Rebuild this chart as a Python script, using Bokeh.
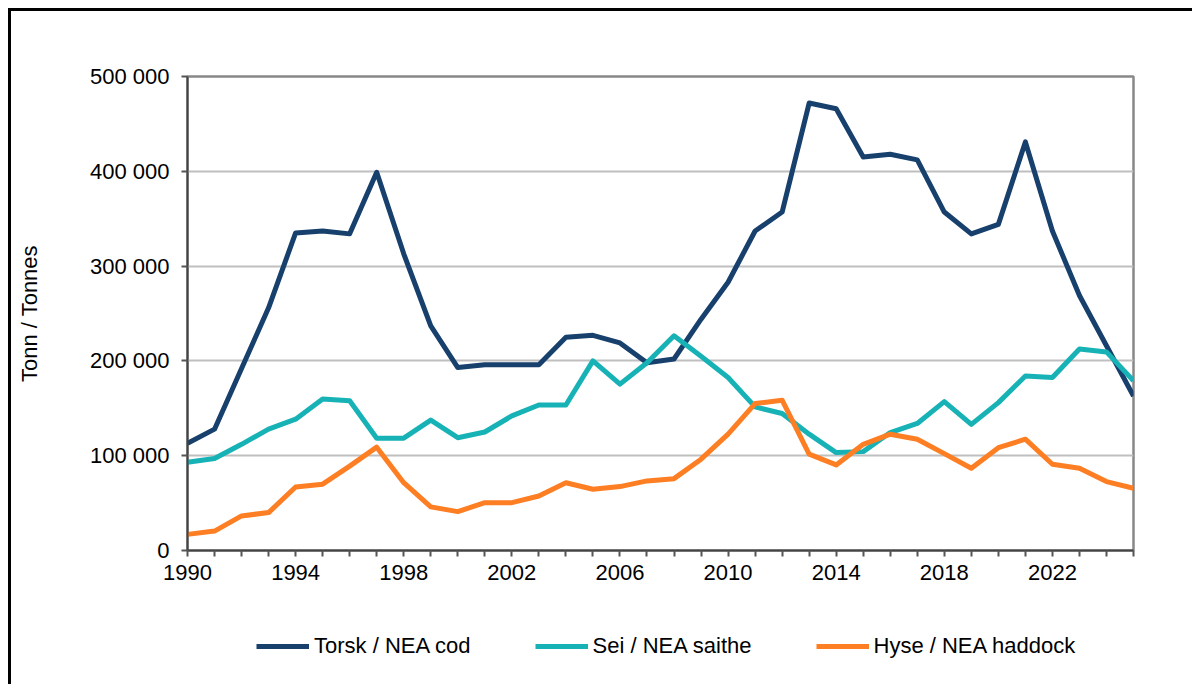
from bokeh.plotting import figure
from bokeh.layouts import column
from bokeh.models import FixedTicker, Range1d, Legend, LegendItem
from bokeh.embed import file_html
from bokeh.resources import INLINE

years = list(range(1990, 2026))
cod = [113000, 128000, 192000, 256000, 335000, 337000, 334000, 399000, 313000, 237000,
       193000, 196000, 196000, 196000, 225000, 227000, 219000, 198000, 202000, 244000,
       283000, 337000, 357000, 472000, 466000, 415000, 418000, 412000, 357000, 334000,
       344000, 431000, 337000, 269000, 216000, 163000]
saithe = [93000, 97000, 112000, 128000, 138500, 159700, 158000, 118500, 118500, 137500,
          119000, 125000, 142000, 153500, 153500, 200000, 175500, 198000, 226500, 205000,
          182500, 151500, 144500, 122700, 103300, 104300, 124400, 134000, 157000, 133000,
          156000, 184000, 182500, 212500, 209500, 179000]
haddock = [17000, 20500, 36500, 40000, 67000, 70000, 89000, 109000, 71500, 46000,
           41000, 50500, 50500, 57500, 71500, 64600, 67400, 73400, 75800, 96300,
           122700, 155000, 158600, 101600, 90300, 112000, 122700, 117400, 102200, 86800,
           108500, 117400, 91000, 86800, 72700, 65700]

series_names = ["Torsk / NEA cod", "Sei / NEA saithe", "Hyse / NEA haddock"]
series_colors = ["#17406D", "#17B2B5", "#FD7E23"]

y_ticks = [0, 100000, 200000, 300000, 400000, 500000]
y_tick_labels = ["0", "100 000", "200 000", "300 000", "400 000", "500 000"]
x_label_years = [1990, 1994, 1998, 2002, 2006, 2010, 2014, 2018, 2022]

FONT = "Liberation Sans"
FS = "22px"

p = figure(output_backend="svg", toolbar_location=None, width=1181, height=600,
           x_range=Range1d(1990, 2025), y_range=Range1d(0, 500000),
           min_border_left=176, min_border_right=59, min_border_top=65, min_border_bottom=61)

p.outline_line_color = "#888888"
p.outline_line_width = 2.5
p.background_fill_color = "white"
p.border_fill_color = "white"

p.xgrid.visible = False
p.ygrid.grid_line_color = "#BFBFBF"
p.ygrid.grid_line_width = 2

# x axis
p.xaxis.ticker = FixedTicker(ticks=years)
p.xaxis.major_label_overrides = {y: (str(y) if y in x_label_years else "") for y in years}
p.xaxis.minor_tick_line_color = None
p.xaxis.major_tick_in = 0
p.xaxis.major_tick_out = 6
p.xaxis.major_tick_line_color = "#555555"
p.xaxis.major_tick_line_width = 2
p.xaxis.axis_line_color = "#444444"
p.xaxis.axis_line_width = 2
p.xaxis.major_label_text_font = FONT
p.xaxis.major_label_text_font_size = FS
p.xaxis.major_label_text_color = "black"
p.xaxis.major_label_standoff = 8

# y axis
p.yaxis.ticker = FixedTicker(ticks=y_ticks)
p.yaxis.major_label_overrides = {t: l for t, l in zip(y_ticks, y_tick_labels)}
p.yaxis.minor_tick_line_color = None
p.yaxis.major_tick_in = 0
p.yaxis.major_tick_out = 6
p.yaxis.major_tick_line_color = "#555555"
p.yaxis.major_tick_line_width = 2
p.yaxis.axis_line_color = "#444444"
p.yaxis.axis_line_width = 2
p.yaxis.major_label_text_font = FONT
p.yaxis.major_label_text_font_size = FS
p.yaxis.major_label_text_color = "black"
p.yaxis.major_label_standoff = 12
p.yaxis.axis_label = "Tonn / Tonnes"
p.yaxis.axis_label_text_font = FONT
p.yaxis.axis_label_text_font_size = FS
p.yaxis.axis_label_text_font_style = "normal"
p.yaxis.axis_label_text_color = "black"
p.yaxis.axis_label_standoff = 45

for data, color in zip([cod, saithe, haddock], series_colors):
    p.line(years, data, line_color=color, line_width=5, line_join="round")

# legend strip below the chart (its lines lie outside its view; only the legend shows)
lg = figure(output_backend="svg", toolbar_location=None, width=1181, height=73,
            x_range=Range1d(0, 1), y_range=Range1d(0, 1),
            min_border_left=0, min_border_right=0, min_border_top=0, min_border_bottom=0)
lg.axis.visible = False
lg.grid.visible = False
lg.outline_line_color = None
lg.border_fill_color = "white"
lg_renderers = []
for data, color in zip([cod, saithe, haddock], series_colors):
    lg_renderers.append(lg.line(years, data, line_color=color, line_width=5))

legend = Legend(items=[LegendItem(label=n, renderers=[r]) for n, r in zip(series_names, lg_renderers)],
                orientation="horizontal", location=(69, 25))
legend.label_text_font = FONT
legend.label_text_font_size = FS
legend.label_text_color = "black"
legend.glyph_width = 53
legend.glyph_height = 22
legend.label_height = 22
legend.label_standoff = 5
legend.spacing = 64
legend.border_line_color = None
legend.background_fill_alpha = 0
legend.margin = 0
legend.padding = 0
lg.add_layout(legend)

layout = column(p, lg, spacing=0)
layout.styles = {"margin-left": "8px", "margin-top": "8px",
                 "border-left": "3px solid black", "border-top": "3px solid black",
                 "background-color": "white"}

open("out.html", "w").write(file_html(layout, INLINE))
